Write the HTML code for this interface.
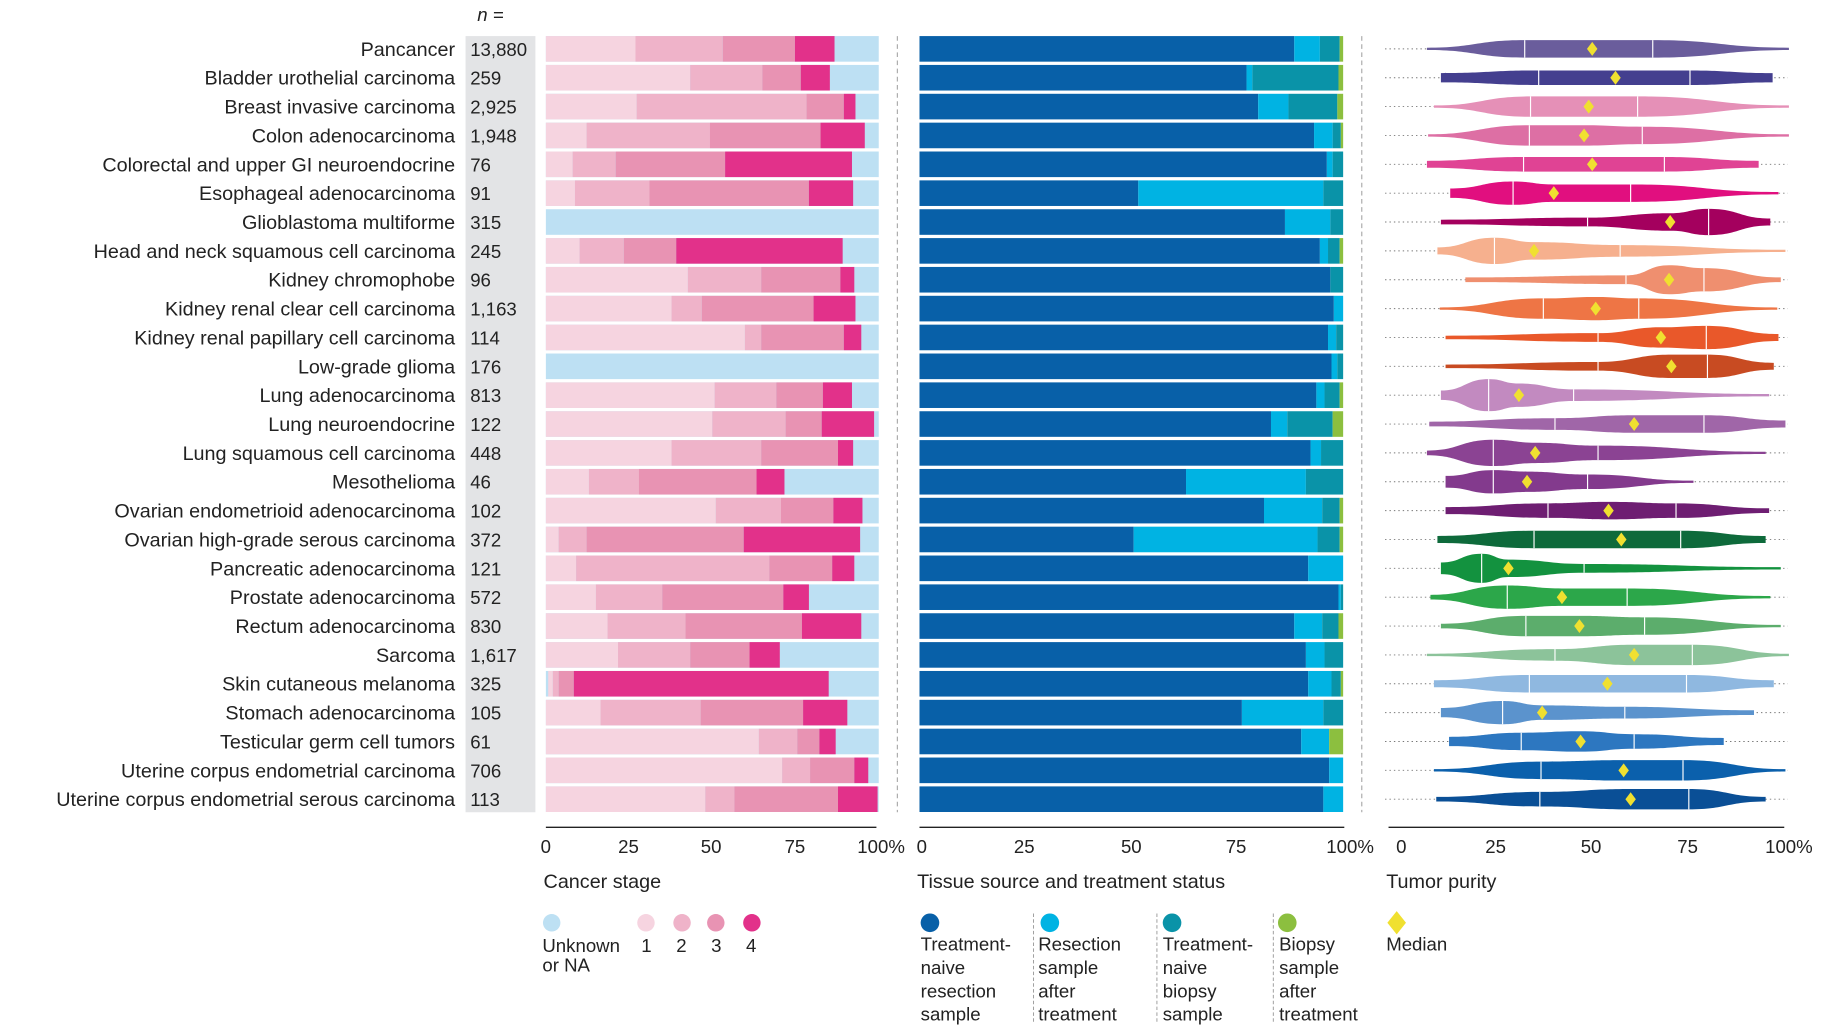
<!DOCTYPE html>
<html><head><meta charset="utf-8"><style>
html,body{margin:0;padding:0;background:#fff;}
svg{display:block;}
text{font-family:"Liberation Sans",sans-serif;fill:#222;}
</style></head><body>
<svg id="s" width="1825" height="1031" viewBox="0 0 1568 886" preserveAspectRatio="none" xmlns="http://www.w3.org/2000/svg">
<rect width="1568" height="886" fill="#fff"/>
<rect x="400" y="31" width="60" height="667" fill="#e3e4e6"/>
<text x="410" y="18" font-size="16" font-style="italic">n =</text>
<line x1="771" y1="31" x2="771" y2="698" stroke="#aaa" stroke-dasharray="4 3" stroke-width="1"/>
<line x1="1170" y1="31" x2="1170" y2="698" stroke="#aaa" stroke-dasharray="4 3" stroke-width="1"/>
<g id="g"></g>
<line x1="469" y1="711" x2="753" y2="711" stroke="#222" stroke-width="1.2"/>
<line x1="790" y1="711" x2="1155" y2="711" stroke="#222" stroke-width="1.2"/>
<line x1="1193" y1="711" x2="1533" y2="711" stroke="#222" stroke-width="1.2"/>
<g font-size="16" text-anchor="middle">
<text x="469" y="733">0</text><text x="540" y="733">25</text><text x="611" y="733">50</text><text x="683" y="733">75</text><text x="757" y="733">100%</text>
<text x="792" y="733">0</text><text x="880" y="733">25</text><text x="972" y="733">50</text><text x="1062" y="733">75</text><text x="1160" y="733">100%</text>
<text x="1204" y="733">0</text><text x="1285" y="733">25</text><text x="1367" y="733">50</text><text x="1450" y="733">75</text><text x="1537" y="733">100%</text>
</g>
<g font-size="17">
<text x="467" y="763">Cancer stage</text>
<text x="788" y="763">Tissue source and treatment status</text>
<text x="1191" y="763">Tumor purity</text>
</g>
<circle cx="474" cy="793" r="7.5" fill="#bde0f3"/>
<circle cx="555" cy="793" r="7.5" fill="#f6d4e0"/>
<circle cx="586" cy="793" r="7.5" fill="#efb3c9"/>
<circle cx="615" cy="793" r="7.5" fill="#e893b3"/>
<circle cx="646" cy="793" r="7.5" fill="#e2318a"/>
<g font-size="16">
<text x="466" y="818">Unknown</text><text x="466" y="835">or NA</text>
<text x="551" y="818">1</text><text x="581" y="818">2</text><text x="611" y="818">3</text><text x="641" y="818">4</text>
</g>
<circle cx="799" cy="793" r="8" fill="#0860a8"/>
<circle cx="902" cy="793" r="8" fill="#00b3e3"/>
<circle cx="1007" cy="793" r="8" fill="#0a93a8"/>
<circle cx="1106" cy="793" r="8" fill="#8cbf3f"/>
<g stroke="#999" stroke-dasharray="3 2" stroke-width="0.8">
<line x1="888" y1="785" x2="888" y2="880"/><line x1="994" y1="785" x2="994" y2="880"/><line x1="1094" y1="785" x2="1094" y2="880"/>
</g>
<g font-size="16">
<text x="791" y="817">Treatment-</text><text x="791" y="837">naive</text><text x="791" y="857">resection</text><text x="791" y="877">sample</text>
<text x="892" y="817">Resection</text><text x="892" y="837">sample</text><text x="892" y="857">after</text><text x="892" y="877">treatment</text>
<text x="999" y="817">Treatment-</text><text x="999" y="837">naive</text><text x="999" y="857">biopsy</text><text x="999" y="877">sample</text>
<text x="1099" y="817">Biopsy</text><text x="1099" y="837">sample</text><text x="1099" y="857">after</text><text x="1099" y="877">treatment</text>
</g>
<polygon points="1200,783 1208,793 1200,803 1192,793" fill="#f0e030"/>
<text x="1191" y="817" font-size="16">Median</text>
</svg>
<script>
(function(){
var NS="http://www.w3.org/2000/svg",g=document.getElementById("g");
function el(t,a,txt){var e=document.createElementNS(NS,t);for(var k in a)e.setAttribute(k,a[k]);if(txt)e.textContent=txt;g.appendChild(e);return e;}
var names=["Pancancer","Bladder urothelial carcinoma","Breast invasive carcinoma","Colon adenocarcinoma","Colorectal and upper GI neuroendocrine","Esophageal adenocarcinoma","Glioblastoma multiforme","Head and neck squamous cell carcinoma","Kidney chromophobe","Kidney renal clear cell carcinoma","Kidney renal papillary cell carcinoma","Low-grade glioma","Lung adenocarcinoma","Lung neuroendocrine","Lung squamous cell carcinoma","Mesothelioma","Ovarian endometrioid adenocarcinoma","Ovarian high-grade serous carcinoma","Pancreatic adenocarcinoma","Prostate adenocarcinoma","Rectum adenocarcinoma","Sarcoma","Skin cutaneous melanoma","Stomach adenocarcinoma","Testicular germ cell tumors","Uterine corpus endometrial carcinoma","Uterine corpus endometrial serous carcinoma"];
var ns=["13,880","259","2,925","1,948","76","91","315","245","96","1,163","114","176","813","122","448","46","102","372","121","572","830","1,617","325","105","61","706","113"];
var st=[[546,621,683,717],[593,655,688,713],[547,693,725,735],[504,610,705,743],[492,529,623,732],[494,558,695,733],null,[498,536,581,724],[591,654,722,734],[577,603,699,735],[640,654,725,740],null,[614,667,707,732],[612,675,706,751],[577,654,720,733],[506,549,650,674],[615,671,716,741],[480,504,639,739],[495,661,715,734],[512,569,673,695],[522,589,689,740],[531,593,644,670],[475,480,493,712],[516,602,690,728],[652,685,704,718],[672,696,734,746],[606,631,720,754]];
var ts=[[1112,1134,1151,1154],[1071,1076,1150,1154],[1081,1107,1149,1154],[1129,1145,1152,1154],[1140,1145,1154,1154],[978,1137,1154,1154],[1104,1143,1154,1154],[1134,1141,1151,1154],[1143,1143,1154,1154],[1146,1154,1154,1154],[1141,1148,1154,1154],[1144,1149,1154,1154],[1131,1138,1151,1154],[1092,1106,1145,1154],[1126,1135,1154,1154],[1019,1122,1154,1154],[1086,1136,1151,1154],[974,1132,1151,1154],[1124,1154,1154,1154],[1150,1152,1154,1154],[1112,1136,1150,1154],[1122,1138,1154,1154],[1124,1144,1152,1154],[1067,1137,1154,1154],[1118,1142,1142,1154],[1142,1154,1154,1154],[1137,1154,1154,1154]];
var vi=[[1226,1310,1368,1420,1537,1,6,6,6,1,"#6a5d9c"],[1238,1322,1388,1452,1523,4,5,5,5,4,"#443f8f"],[1232,1315,1365,1407,1537,1,7,7,7,1,"#e590b7"],[1227,1314,1361,1411,1537,1,7,7,6,1,"#dd6fa4"],[1226,1309,1368,1430,1511,3,5,5,5,3,"#e04394"],[1246,1300,1335,1401,1528,4,8,6,6,1,"#e10f7f"],[1238,1364,1435,1468,1521,2,3,6,9,3,"#a4005e"],[1235,1284,1318,1392,1534,3,9,6,4,1,"#f6b08e"],[1259,1397,1434,1464,1530,2,3,10,8,2,"#ef8f6f"],[1237,1326,1371,1408,1527,1,7,8,7,1,"#ee7545"],[1242,1373,1427,1466,1528,1.5,3,7,8,3,"#e9582a"],[1242,1373,1436,1467,1524,1.5,3,8,8,3,"#c84b22"],[1238,1279,1305,1352,1520,4,11,8,4,1,"#c28ac0"],[1228,1336,1404,1464,1534,2,4,6,6,3,"#a066a8"],[1226,1283,1319,1373,1517,2,9,7,5,1,"#8b4393"],[1242,1283,1312,1364,1455,5,8,7,5,1,"#833a8d"],[1242,1330,1382,1440,1520,3,5,6,5,2,"#6e1e72"],[1235,1318,1393,1444,1517,3,6,6,6,3,"#0e6a3b"],[1238,1273,1296,1361,1530,5,10,6,3,1,"#13923f"],[1229,1295,1342,1398,1521,2,8,6,6,1,"#2ca74a"],[1238,1311,1357,1413,1530,2,7,7,6,1,"#5cad6c"],[1226,1336,1404,1454,1537,1,4,7,7,1,"#8cc39a"],[1232,1314,1381,1449,1524,3,6,6,6,3,"#8fb8e0"],[1238,1291,1325,1396,1507,4,8,5,4,2,"#5b93cd"],[1245,1307,1358,1404,1481,4,6,7,5,3,"#2d77c0"],[1232,1324,1395,1446,1534,1,6,7,7,1,"#0b60ac"],[1234,1323,1401,1451,1517,2,5,7,7,2,"#0a4f96"]];
var scol=["#f6d4e0","#efb3c9","#e893b3","#e2318a"],tcol=["#0860a8","#00b3e3","#0a93a8","#8cbf3f"];
for(var i=0;i<27;i++){
 var cy=42+i*24.8,ty=cy-11,h=22;
 el("text",{x:391,y:cy+6,"font-size":17,"text-anchor":"end"},names[i]);
 el("text",{x:404,y:cy+6,"font-size":16},ns[i]);
 el("rect",{x:469,y:ty,width:286,height:h,fill:"#bde0f3"});
 if(st[i]){var p=(i==22)?471:469;for(var k=0;k<4;k++){el("rect",{x:p,y:ty,width:Math.max(0,st[i][k]-p),height:h,fill:scol[k]});p=st[i][k];}}
 var q=790;for(var k=0;k<4;k++){var w=ts[i][k]-q;if(w>0)el("rect",{x:q,y:ty,width:w,height:h,fill:tcol[k]});q=Math.max(q,ts[i][k]);}
 el("line",{x1:1190,y1:cy,x2:1536,y2:cy,stroke:"#777","stroke-width":0.8,"stroke-dasharray":"1.2 2.6"});
 var v=vi[i],xs=[v[0],v[1],v[2],v[3],v[4]],hw=[v[5],v[6]*1.25,v[7]*1.25,v[8]*1.25,v[9]];
 var d="M"+xs[0]+","+(cy-hw[0]);
 for(var k=1;k<5;k++){var mx=(xs[k-1]+xs[k])/2;d+=" C"+mx+","+(cy-hw[k-1])+" "+mx+","+(cy-hw[k])+" "+xs[k]+","+(cy-hw[k]);}
 d+=" L"+xs[4]+","+(cy+hw[4]);
 for(var k=3;k>=0;k--){var mx=(xs[k+1]+xs[k])/2;d+=" C"+mx+","+(cy+hw[k+1])+" "+mx+","+(cy+hw[k])+" "+xs[k]+","+(cy+hw[k]);}
 d+="Z";
 el("path",{d:d,fill:v[10]});
 el("line",{x1:xs[1],y1:cy-hw[1],x2:xs[1],y2:cy+hw[1],stroke:"#fff","stroke-width":1});
 el("line",{x1:xs[3],y1:cy-hw[3],x2:xs[3],y2:cy+hw[3],stroke:"#fff","stroke-width":1});
 var m=xs[2];
 el("polygon",{points:m+","+(cy-6)+" "+(m+4.5)+","+cy+" "+m+","+(cy+6)+" "+(m-4.5)+","+cy,fill:"#f0e030"});
}
})();
</script>
</body></html>
